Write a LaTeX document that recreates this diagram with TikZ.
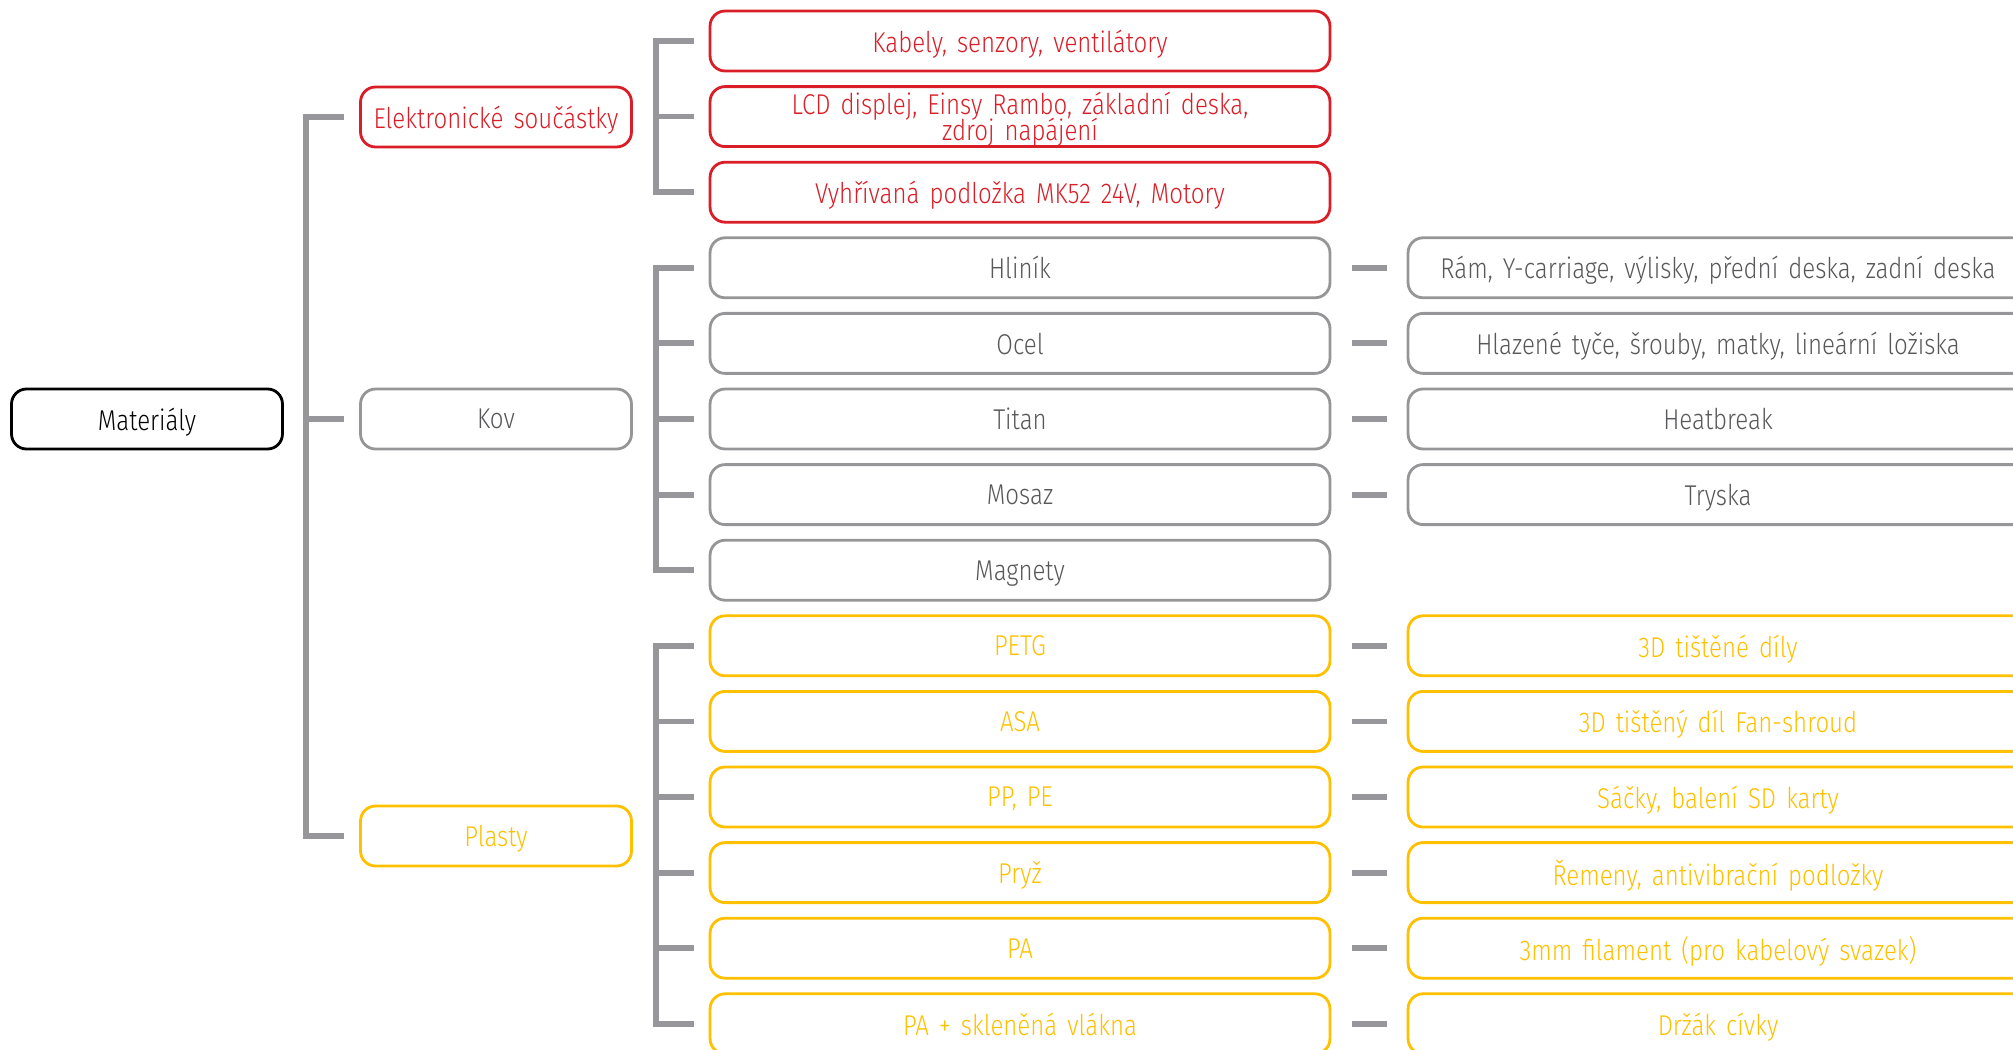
\documentclass[tikz,border=0pt]{standalone}
\usepackage{fontspec}
\setmainfont{Fira Sans}[UprightFont={* Light},FakeStretch=0.84,WordSpace=1.5]
\usetikzlibrary{positioning}
\definecolor{elred}{RGB}{218,30,40}
\definecolor{kovline}{RGB}{150,150,152}
\definecolor{kovtext}{RGB}{88,88,90}
\definecolor{plyellow}{RGB}{255,192,0}
\definecolor{bargray}{RGB}{150,150,155}

\begin{document}
\begin{tikzpicture}[x=0.02cm,y=-0.02cm,
    box/.style={draw,rounded corners=0.3cm,line width=1.6pt,minimum height=1.2cm,inner sep=0pt,align=center,
        text depth=0pt,font=\fontsize{16.3}{15.4}\selectfont},
    wide/.style={box,minimum width=12.4cm},
    short/.style={box,minimum width=5.42cm},
    elbox/.style={draw=elred,text=elred},
    kovbox/.style={draw=kovline,text=kovtext},
    plbox/.style={draw=plyellow,text=plyellow},
    bar/.style={draw=bargray,line width=3.3pt}]
    \useasboundingbox (0,0) rectangle (2013,1050);

    % first two levels
    \node[short,draw=black,text=black] (mat) at (147,419) {Materiály};
    \node[short,elbox] (el) at (496,117) {Elektronické součástky};
    \node[short,kovbox] (kov) at (496,419) {Kov};
    \node[short,plbox] (pl) at (496,836) {Plasty};

    % materials
    \foreach \i/\t in {0/{Kabely, senzory, ventilátory},
        1/{LCD displej, Einsy Rambo, základní deska,\\[-2.2pt]zdroj napájení},
        2/{Vyhřívaná podložka MK52 24V, Motory}} {
        \node[wide,elbox] (m\i) at (1020,{41+75.6*\i}) {\t};
    }
    \foreach \i/\t in {3/Hliník,4/Ocel,5/Titan,6/Mosaz,7/Magnety} {
        \node[wide,kovbox] (m\i) at (1020,{41+75.6*\i}) {\t};
    }
    \foreach \i/\t in {8/PETG,9/ASA,10/{PP, PE},11/Pryž,12/PA,13/{PA + skleněná vlákna}} {
        \node[wide,plbox] (m\i) at (1020,{41+75.6*\i}) {\t};
    }

    % uses
    \foreach \i/\t in {3/{Rám, Y-carriage, výlisky, přední deska, zadní deska},
        4/{Hlazené tyče, šrouby, matky, lineární ložiska},5/Heatbreak,6/Tryska} {
        \node[wide,kovbox] (r\i) at (1718,{41+75.6*\i}) {\t};
    }
    \foreach \i/\t in {8/{3D tištěné díly},9/{3D tištěný díl Fan-shroud},
        10/{Sáčky, balení SD karty},11/{Řemeny, antivibrační podložky},
        12/{3mm filament (pro kabelový svazek)},13/{Držák cívky}} {
        \node[wide,plbox] (r\i) at (1718,{41+75.6*\i}) {\t};
    }
    \foreach \i in {3,4,5,6,8,9,10,11,12,13} {
        \draw[bar,shorten <=0.42cm,shorten >=0.4cm] (m\i.east) -- (r\i.west);
    }

    % brackets
    \draw[bar] ([xshift=-0.3cm]el.west) -| ([xshift=-1.06cm]pl.west) -- ([xshift=-0.3cm]pl.west);
    \draw[bar] ([xshift=-0.3cm]kov.west) -- ([xshift=-1.06cm]kov.west);
    \draw[bar] ([xshift=-0.3cm]m0.west) -| ([xshift=-1.06cm]m2.west) -- ([xshift=-0.3cm]m2.west);
    \draw[bar] ([xshift=-0.3cm]m3.west) -| ([xshift=-1.06cm]m7.west) -- ([xshift=-0.3cm]m7.west);
    \draw[bar] ([xshift=-0.3cm]m8.west) -| ([xshift=-1.06cm]m13.west) -- ([xshift=-0.3cm]m13.west);
    \foreach \i in {1,4,5,6,9,10,11,12} {
        \draw[bar] ([xshift=-0.3cm]m\i.west) -- ([xshift=-1.06cm]m\i.west);
    }
\end{tikzpicture}
\end{document}
